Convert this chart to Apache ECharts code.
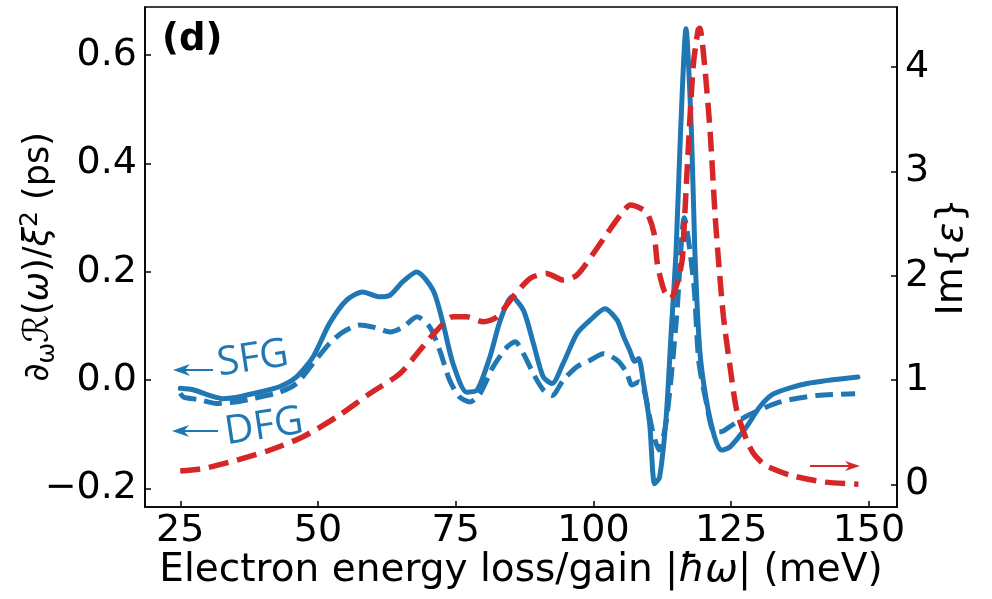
<!DOCTYPE html>
<html>
<head>
<meta charset="utf-8">
<script src="https://cdn.jsdelivr.net/npm/echarts@6/dist/echarts.min.js"></script>
<style>
  html, body { margin: 0; padding: 0; background: #fff; }
  #main { width: 992px; height: 599px; }
</style>
</head>
<body>
<div id="main"></div>
<script>
  // SFG (solid) and DFG (dashed) on left axis, Im{eps} on right axis: [meV, value]
  const sfgPoints = [
    [25, -0.015], [27.5, -0.018], [30.3, -0.028], [32.7, -0.034], [35, -0.032], [38.1, -0.025],
    [43, -0.012], [46.1, 0.006], [49.1, 0.043], [52.1, 0.105], [55.2, 0.148], [58.1, 0.163],
    [61.2, 0.154], [63.1, 0.157], [65.4, 0.182], [67.9, 0.200], [70.9, 0.166], [72.7, 0.105],
    [74.5, 0.031], [77, -0.022], [78.9, -0.018], [81.2, 0.043], [83.1, 0.111], [85.2, 0.154],
    [87.3, 0.129], [89.1, 0.068], [90.9, 0.006], [92.5, -0.006], [94.5, 0.031], [97, 0.086],
    [99.4, 0.111], [102.1, 0.132], [104.3, 0.111], [105.5, 0.080], [106.6, 0.055], [107.5, 0.035],
    [108.2, 0.040], [109.1, -0.006], [110.2, -0.080], [111.1, -0.191], [112.0, -0.179],
    [113.2, -0.068], [114.1, 0.087], [115.0, 0.24], [115.8, 0.455], [116.8, 0.649], [117.8, 0.455],
    [118.4, 0.24], [119.3, 0.055], [120.5, -0.037], [122.0, -0.105], [123.2, -0.129],
    [124.8, -0.123], [127.8, -0.086], [130.2, -0.049], [132.7, -0.025], [138.8, -0.006], [148, 0.006]
  ];
  const dfgPoints = [
    [25, -0.024], [25.6, -0.031], [28.5, -0.036], [31.6, -0.043], [35, -0.040], [38.1, -0.034],
    [43, -0.022], [46.1, -0.006], [49.1, 0.031], [52.1, 0.068], [54.5, 0.089], [57.6, 0.102],
    [60, 0.098], [63.1, 0.089], [65.4, 0.098], [68, 0.117], [70.3, 0.098], [72.1, 0.055],
    [73.9, 0.0], [75.7, -0.031], [77.6, -0.040], [79.4, -0.025], [81.8, 0.025], [84.3, 0.061],
    [85.8, 0.071], [87.3, 0.049], [89.1, 0.012], [90.9, -0.018], [92.5, -0.028], [94.5, 0.0],
    [97, 0.025], [99.4, 0.037], [101.8, 0.049], [104.3, 0.037], [106, 0.015], [107, -0.009],
    [108.3, -0.003], [109.2, -0.018], [110.7, -0.092], [111.9, -0.129], [113.3, -0.07],
    [115.1, 0.117], [116.5, 0.30], [118.2, 0.179], [119.1, 0.037], [120.4, -0.037],
    [121.9, -0.095], [123.2, -0.095], [124.7, -0.086], [128, -0.065], [133.9, -0.040],
    [140.6, -0.028], [147.5, -0.025]
  ];
  const epsPoints = [
    [25, 0.13], [29.1, 0.153], [35.2, 0.233], [41.2, 0.329], [47.2, 0.456], [53.4, 0.648],
    [59.4, 0.872], [64.9, 1.064], [68.5, 1.288], [71.6, 1.479], [74.5, 1.607], [77, 1.607],
    [80, 1.559], [82.5, 1.607], [85.4, 1.799], [88.5, 1.975], [91.5, 2.023], [94.5, 1.959],
    [97, 2.007], [100, 2.215], [102.5, 2.407], [104.9, 2.582], [106.7, 2.678], [108.6, 2.646],
    [109.8, 2.598], [111, 2.407], [111.6, 2.119], [112.8, 1.863], [114, 1.783], [115.2, 1.927],
    [116.1, 2.15], [116.4, 2.407], [117.2, 3.205], [118.1, 4.004], [119, 4.356], [119.3, 4.372],
    [120.2, 4.004], [121.2, 3.365], [122.1, 2.566], [122.7, 2.15], [123.6, 1.607], [124.8, 1.128],
    [126, 0.712], [127.8, 0.425], [128.9, 0.31], [130, 0.24], [131.3, 0.18], [135.8, 0.089],
    [141.8, 0.025], [148.1, 0.003]
  ];
  const xTicks = [25, 50, 75, 100, 125, 150];
  const leftTicks = [-0.2, 0, 0.2, 0.4, 0.6];
  const rightTicks = [0, 1, 2, 3, 4];

  const blue = '#1f77b4';
  const red = '#d62728';
  const font = 'DejaVu Sans';

  function arrow(x1, x2, y, color, head, half) {
    // line from x1 to x2, head at x2
    let dir = x2 > x1 ? 1 : -1;
    return {
      type: 'group',
      children: [
        { type: 'line', shape: { x1: x1, y1: y, x2: x2 - dir * head * 0.6, y2: y },
          style: { stroke: color, lineWidth: 2 } },
        { type: 'polygon',
          shape: { points: [[x2, y], [x2 - dir * head, y - half], [x2 - dir * head * 0.7, y], [x2 - dir * head, y + half]] },
          style: { fill: color } }
      ]
    };
  }

  let chart = echarts.init(document.getElementById('main'));
  let option = {
    animation: false,
    backgroundColor: '#fff',
    grid: {
      left: 145, top: 7, right: 95, bottom: 92, outerBoundsMode: 'none',
      show: true, borderColor: '#000', borderWidth: 1.6, containLabel: false
    },
    xAxis: {
      type: 'value', min: 18.6, max: 155.1,
      name: '{a|Electron energy loss/gain |}{i|ħω}{a|| (meV)}',
      nameLocation: 'middle', nameGap: 44, nameMoveOverlap: false,
      nameTextStyle: {
        rich: {
          a: { fontFamily: font, fontSize: 39, color: '#000' },
          i: { fontFamily: font, fontSize: 39, fontStyle: 'italic', color: '#000' }
        }
      },
      splitLine: { show: false },
      axisLine: { onZero: false, lineStyle: { color: '#000', width: 1.6 } },
      axisTick: { inside: true, length: 6, lineStyle: { color: '#000', width: 1.5 }, customValues: xTicks },
      axisLabel: { customValues: xTicks, fontFamily: font, fontSize: 38, color: '#000', margin: 5 }
    },
    yAxis: [{
      type: 'value', min: -0.234, max: 0.689, position: 'left',
      name: '∂{sub|ω}{cal|ℛ}({it|ω})/{it|ξ}{sup|2} (ps)',
      nameLocation: 'middle', nameGap: 85, nameRotate: 90, nameMoveOverlap: false,
      nameTextStyle: {
        fontFamily: font, fontSize: 35, color: '#000',
        rich: {
          sub: { fontFamily: font, fontSize: 25, color: '#000', verticalAlign: 'bottom', lineHeight: 42 },
          sup: { fontFamily: font, fontSize: 25, color: '#000', verticalAlign: 'top', lineHeight: 28 },
          it: { fontFamily: font, fontSize: 35, fontStyle: 'italic', color: '#000' },
          cal: { fontFamily: font, fontSize: 35, fontStyle: 'italic', color: '#000' }
        }
      },
      splitLine: { show: false },
      axisLine: { show: true, onZero: false, lineStyle: { color: '#000', width: 1.6 } },
      axisTick: { show: true, inside: true, length: 6, lineStyle: { color: '#000', width: 1.5 }, customValues: leftTicks },
      axisLabel: {
        customValues: leftTicks, fontFamily: font, fontSize: 38, color: '#000', margin: 8,
        formatter: v => (v < 0 ? '\u2212' : '') + Math.abs(v).toFixed(1)
      }
    }, {
      type: 'value', min: -0.215, max: 4.576, position: 'right',
      name: 'Im{{it|ε}}',
      nameLocation: 'middle', nameGap: 36, nameRotate: 90, nameMoveOverlap: false,
      nameTextStyle: {
        fontFamily: font, fontSize: 38, color: '#000',
        rich: { it: { fontFamily: font, fontSize: 38, fontStyle: 'italic', color: '#000' } }
      },
      splitLine: { show: false },
      axisLine: { show: true, onZero: false, lineStyle: { color: '#000', width: 1.6 } },
      axisTick: { show: true, inside: true, length: 6, lineStyle: { color: '#000', width: 1.5 }, customValues: rightTicks },
      axisLabel: { customValues: rightTicks, fontFamily: font, fontSize: 38, color: '#000', margin: 8 }
    }],
    series: [{
      name: 'SFG', type: 'line', data: sfgPoints, yAxisIndex: 0,
      showSymbol: false, smooth: 0.25,
      lineStyle: { color: blue, width: 5, cap: 'round', join: 'round' }
    }, {
      name: 'DFG', type: 'line', data: dfgPoints, yAxisIndex: 0,
      showSymbol: false, smooth: 0.25,
      lineStyle: { color: blue, width: 5, type: [18, 8] }
    }, {
      name: 'Im', type: 'line', data: epsPoints, yAxisIndex: 1,
      showSymbol: false, smooth: 0.25,
      lineStyle: { color: red, width: 5.5, type: [20, 9] }
    }],
    graphic: [
      { type: 'text', left: 162, top: 22,
        style: { text: '(d)', font: 'bold 37px "DejaVu Sans"', fill: '#000' } },
      { type: 'text', x: 253, y: 359, rotation: 0.15,
        style: { text: 'SFG', font: '40px "Open Sans"', fill: blue, align: 'center', verticalAlign: 'middle' } },
      { type: 'text', x: 264, y: 427, rotation: 0.15,
        style: { text: 'DFG', font: '40px "Open Sans"', fill: blue, align: 'center', verticalAlign: 'middle' } },
      arrow(213, 173, 370, blue, 17, 6),
      arrow(218, 172, 431, blue, 17, 6),
      arrow(810, 860, 466, red, 15, 5)
    ]
  };
  chart.setOption(option);
</script>
</body>
</html>
